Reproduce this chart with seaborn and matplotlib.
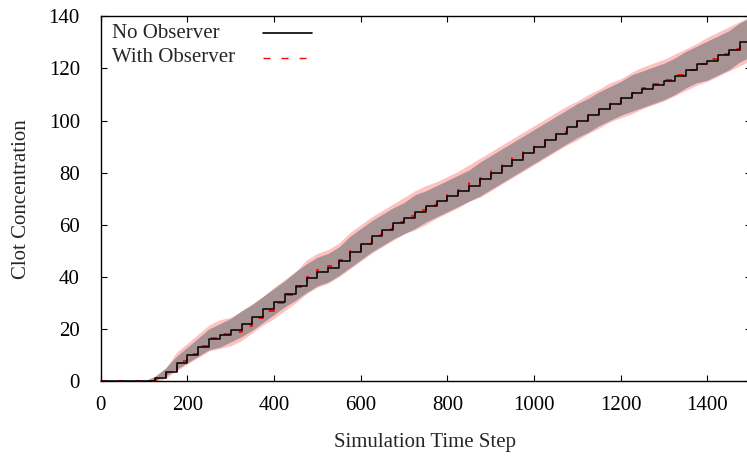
import matplotlib
matplotlib.use("Agg")
import matplotlib.pyplot as plt
import numpy as np
import pandas as pd
import seaborn as sns

# ---- data ----
time_steps = [0, 25, 50, 75, 100, 125, 150, 175, 200, 225, 250, 275, 300, 325, 350,
              375, 400, 425, 450, 475, 500, 525, 550, 575, 600, 625, 650, 675, 700,
              725, 750, 775, 800, 825, 850, 875, 900, 925, 950, 975, 1000, 1025,
              1050, 1075, 1100, 1125, 1150, 1175, 1200, 1225, 1250, 1275, 1300,
              1325, 1350, 1375, 1400, 1425, 1450, 1475, 1500]

no_obs_mean = [0, 0, 0, 0, 0, 1, 3.5, 7, 10, 13, 16, 17.5, 19.5, 22, 24.5,
               27.5, 30.5, 33.5, 36.5, 39.5, 42, 43.5, 46, 49.5, 52.5, 55.5, 58, 60.5, 62.5,
               65, 67, 69, 71, 73, 75, 77.5, 80, 82.5, 85, 87.5, 90, 92.5,
               95, 97.5, 100, 102, 104.5, 106.5, 108.5, 110.5, 112, 113.5, 115,
               117, 119.5, 121.5, 123, 125, 127, 130, 132]
no_obs_sd = [0, 0, 0, 0, 0, 0.8, 1.5, 2.5, 3, 3.5, 4, 4.5, 4.5, 5, 5,
             5, 5, 5, 5.5, 5.5, 5.5, 5.5, 5.5, 6, 6, 6, 6, 6, 6,
             6.5, 6, 6, 6, 6, 6, 6.5, 6.5, 6.5, 6.5, 6.5, 6.5, 6.5,
             6.5, 6.5, 6.5, 6.5, 6.5, 6.5, 6.5, 7, 7, 7, 7,
             7, 7, 7, 7.5, 7.5, 7.5, 7.5, 7.5]

with_obs_mean = [0, 0, 0, 0, 0, 0.5, 3, 7.5, 10.5, 13.5, 16.5, 18, 19, 21, 24,
                 27, 30, 33, 36, 40, 42.5, 44, 46.5, 50, 53, 56, 58.5, 61, 63.5,
                 65.5, 67.5, 69.5, 71.5, 73.5, 76, 78, 80.5, 83, 85.5, 88, 90.5, 93,
                 95.5, 98, 100, 102.5, 104.5, 107, 108.5, 110.5, 112.5, 114, 115.5,
                 117.5, 119.5, 121.5, 123.5, 125.5, 127.5, 129.5, 131.5]
with_obs_sd = [0, 0, 0, 0, 0, 1, 2, 3.5, 4, 4.5, 5, 5.5, 5.5, 5.5, 5.5,
               5.5, 6, 6, 6, 6.5, 6.5, 6.5, 6.5, 7, 7, 7, 7, 7, 7,
               7.5, 7.5, 7, 7, 7, 7, 7.5, 7.5, 7.5, 7.5, 7.5, 7.5, 7.5,
               7.5, 7.5, 7.5, 7.5, 7.5, 7.5, 7.5, 8, 8, 8, 8,
               8, 8, 8, 8.5, 8.5, 8.5, 8.5, 8.5]

series_labels = ["No Observer", "With Observer"]
x_label = "Simulation Time Step"
y_label = "Clot Concentration"
x_ticks = [0, 200, 400, 600, 800, 1000, 1200, 1400]
y_ticks = [0, 20, 40, 60, 80, 100, 120, 140]

# ---- figure ----
sns.set_style("ticks")
plt.rcParams['font.family'] = ['Liberation Serif', 'DejaVu Serif']
plt.rcParams['font.size'] = 15

W, H = 747, 457
fig = plt.figure(figsize=(W / 100, H / 100), dpi=100)
left_px, right_px, top_px, bot_px = 100.7, 750.7, 16.3, 381.0
ax = fig.add_axes([left_px / W, (H - bot_px) / H,
                   (right_px - left_px) / W, (bot_px - top_px) / H])

df = pd.DataFrame({
    "t": time_steps * 2,
    "mean": no_obs_mean + with_obs_mean,
    "sd": no_obs_sd + with_obs_sd,
    "series": [series_labels[0]] * len(time_steps) + [series_labels[1]] * len(time_steps),
})

t = np.array(time_steps, dtype=float)
wm, ws = np.array(with_obs_mean), np.array(with_obs_sd)
nm, ns = np.array(no_obs_mean), np.array(no_obs_sd)

# error bands
ax.fill_between(t, wm - ws, wm + ws, color="#ffb8b8", alpha=0.85,
                linewidth=0, zorder=1)
ax.fill_between(t, nm - ns, nm + ns, color="#7e7e7e", alpha=0.68,
                linewidth=0, zorder=2)

# mean lines
sns.lineplot(data=df[df.series == series_labels[1]], x="t", y="mean", ax=ax,
             color="red", linewidth=1.3, drawstyle="steps-post", zorder=3,
             legend=False, errorbar=None, linestyle=(0, (3.6, 5.8)))
sns.lineplot(data=df[df.series == series_labels[0]], x="t", y="mean", ax=ax,
             color="black", linewidth=1.1, drawstyle="steps-post", zorder=4,
             legend=False, errorbar=None)
for ln in ax.lines:
    ln.set_clip_on(False)

ax.set_xlim(0, 1500)
ax.set_ylim(0, 140)
ax.set_xticks(x_ticks)
ax.set_yticks(y_ticks)
ax.tick_params(direction="in", length=4.3, width=0.8, top=True, right=True,
               colors="black", labelsize=15)
ax.tick_params(axis="y", pad=15)
ax.tick_params(axis="x", pad=10.5)
for s in ax.spines.values():
    s.set_visible(True)
    s.set_linewidth(1.0)
    s.set_color("black")
ax.set_xlabel("")
ax.set_ylabel("")

fig.text(425.5 / W, 1 - 442 / H, x_label, ha="center", va="center", fontsize=15)
fig.text(22 / W, 1 - 199 / H, y_label, ha="center", va="center", rotation=90,
         fontsize=15)

# legend (gnuplot style: text left, sample right)
rows_y = [(bot_px - 33) / (bot_px - top_px), (bot_px - 58) / (bot_px - top_px)]
tx = (112 - left_px) / (right_px - left_px)
lx0 = (263 - left_px) / (right_px - left_px)
lx1 = (312 - left_px) / (right_px - left_px)
styles = [dict(color="black", linewidth=1.2, linestyle="-"),
          dict(color="red", linewidth=1.0, linestyle=(0, (5, 8)))]
for lab, yy, st in zip(series_labels, rows_y, styles):
    ax.text(tx, yy, lab, transform=ax.transAxes, ha="left", va="center", fontsize=15)
    ax.plot([lx0, lx1], [yy, yy], transform=ax.transAxes, **st)

fig.savefig("out.png", dpi=100)
